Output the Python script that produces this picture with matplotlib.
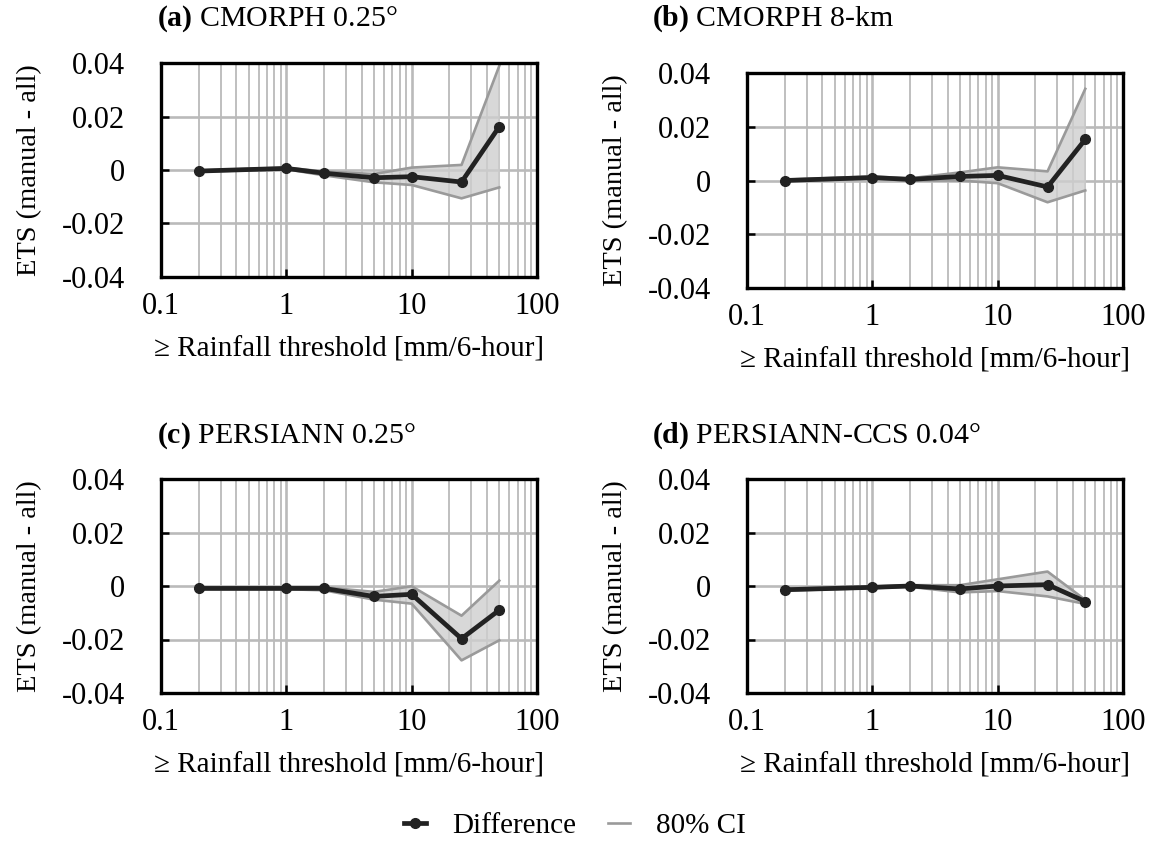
import matplotlib
matplotlib.use("Agg")
import matplotlib.pyplot as plt
from matplotlib.lines import Line2D
import numpy as np

plt.rcParams['font.family'] = ['Liberation Serif', 'DejaVu Serif']
plt.rcParams['mathtext.fontset'] = 'custom'
plt.rcParams['mathtext.rm'] = 'Liberation Serif'
plt.rcParams['mathtext.bf'] = 'Liberation Serif:bold'

thresholds = [0.2, 1, 2, 5, 10, 25, 50]

titles = ["(a)", "(b)", "(c)", "(d)"]
products = ["CMORPH 0.25°", "CMORPH 8-km", "PERSIANN 0.25°", "PERSIANN-CCS 0.04°"]

diff_a = [-0.0004, 0.0006, -0.0012, -0.0029, -0.0025, -0.0045, 0.0162]
lo_a = [-0.0006, 0.0003, -0.0020, -0.0046, -0.0056, -0.0106, -0.0065]
hi_a = [-0.0002, 0.0009, -0.0006, -0.0015, 0.0009, 0.0019, 0.0389]

diff_b = [0.0000, 0.0011, 0.0004, 0.0015, 0.0019, -0.0024, 0.0153]
lo_b = [-0.0002, 0.0007, 0.0000, 0.0000, -0.0010, -0.0081, -0.0037]
hi_b = [0.0003, 0.0015, 0.0008, 0.0030, 0.0049, 0.0034, 0.0341]

diff_c = [-0.0009, -0.0009, -0.0009, -0.0039, -0.0031, -0.0197, -0.0090]
lo_c = [-0.0012, -0.0012, -0.0016, -0.0051, -0.0066, -0.0278, -0.0203]
hi_c = [-0.0006, -0.0006, -0.0005, -0.0022, -0.0001, -0.0111, 0.0020]

diff_d = [-0.0014, -0.0005, 0.0000, -0.0011, 0.0000, 0.0005, -0.0058]
lo_d = [-0.0017, -0.0008, -0.0003, -0.0024, -0.0019, -0.0039, -0.0067]
hi_d = [-0.0010, -0.0002, 0.0003, 0.0003, 0.0025, 0.0054, -0.0052]

yticks = [-0.04, -0.02, 0, 0.02, 0.04]
ytick_labels = ["-0.04", "-0.02", "0", "0.02", "0.04"]
xticks = [0.1, 1, 10, 100]
xtick_labels = ["0.1", "1", "10", "100"]

xlabel = "≥ Rainfall threshold [mm/6-hour]"
ylabel = "ETS (manual - all)"
legend_labels = ["Difference", "80% CI"]

fig = plt.figure(figsize=(11.5, 8.5), dpi=100)

W, H = 1150, 850
# axes boxes in pixels: left, top, right, bottom
boxes = [(161, 63, 537, 277), (747, 73, 1123, 288),
         (161, 479, 537, 693), (747, 479, 1123, 693)]
title_pos = [(157, 19), (652, 19), (157, 436), (652, 436)]

series = [(diff_a, lo_a, hi_a), (diff_b, lo_b, hi_b),
          (diff_c, lo_c, hi_c), (diff_d, lo_d, hi_d)]

dark = '#222222'
gray = '#9a9a9a'
gridc = '#bababa'

for i, (box, (d, lo, hi)) in enumerate(zip(boxes, series)):
    l, t, r, b = box
    ax = fig.add_axes([l / W, 1 - b / H, (r - l) / W, (b - t) / H])
    ax.set_xscale('log')
    ax.set_xlim(0.1, 100)
    ax.set_ylim(-0.04, 0.04)
    ax.grid(True, which='major', color=gridc, lw=1.9, zorder=0)
    ax.grid(True, which='minor', axis='x', color=gridc, lw=1.3, zorder=0)
    ax.set_axisbelow(True)
    ax.fill_between(thresholds, lo, hi, color='#cfcfcf', alpha=0.8, lw=0, zorder=1)
    ax.plot(thresholds, lo, color=gray, lw=1.9, zorder=2)
    ax.plot(thresholds, hi, color=gray, lw=1.9, zorder=2)
    ax.plot(thresholds, d, color=dark, lw=3.4, marker='o', ms=7, zorder=3)
    ax.set_xticks(xticks)
    ax.set_xticklabels(xtick_labels)
    ax.set_yticks(yticks)
    ax.set_yticklabels(ytick_labels)
    ax.tick_params(axis='both', which='major', direction='in', length=6, width=1.8,
                   labelsize=22, colors='black')
    ax.tick_params(axis='x', which='major', pad=11)
    ax.tick_params(axis='x', which='minor', length=0)
    ax.tick_params(axis='y', pad=26)
    for s in ax.spines.values():
        s.set_linewidth(2.4)
        s.set_color('black')
    ax.set_xlabel(xlabel, fontsize=21, labelpad=11)
    ax.set_ylabel(ylabel, fontsize=20.5, labelpad=14)
    tx, ty = title_pos[i]
    fig.text(tx / W, 1 - ty / H, r"$\mathbf{" + titles[i] + "}$ " + products[i],
             fontsize=21.5, ha='left', va='center')

handles = [Line2D([], [], color=dark, lw=3.4, marker='o', ms=7),
           Line2D([], [], color=gray, lw=1.9)]
fig.legend(handles, legend_labels, loc='center', bbox_to_anchor=(0.5, 1 - 826 / H),
           ncol=2, frameon=False, fontsize=21, handlelength=0.75, columnspacing=1.1,
           handletextpad=0.9)

fig.savefig("out.png", dpi=100)
